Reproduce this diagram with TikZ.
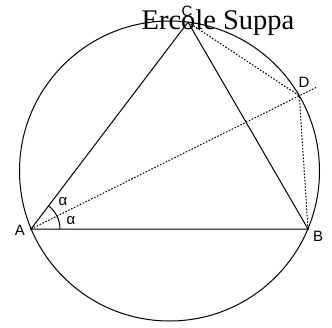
\documentclass[tikz,border=0pt]{standalone}
\usepackage{fontspec}
\setmainfont{Liberation Serif}
\newfontfamily\lblfont{Liberation Sans}
\begin{document}
\begin{tikzpicture}[x=1pt,y=1pt,
  seg/.style={line width=1pt, black},
  dotseg/.style={line width=1pt, black, dash pattern=on 1.6pt off 1.6pt},
  lbl/.style={font=\lblfont\fontsize{15}{15}\selectfont, inner sep=0pt}]
\useasboundingbox (0,0) rectangle (332,-327);
\coordinate (O) at (169.5,-171);
\coordinate (A) at (31,-229);
\coordinate (B) at (308,-229);
\coordinate (C) at (188,-22.1);
\coordinate (D) at (299.3,-95.8);
\coordinate (E) at (316,-87.5);
\draw[seg] (O) circle[radius=150];
\draw[seg] (A) -- (B) -- (C) -- cycle;
\draw[dotseg] (A) -- (D) -- (E);
\draw[dotseg] (C) -- (D) -- (B);
\draw[seg] ([xshift=29pt]A) arc[start angle=0, end angle=52.8, radius=29pt];
\node[lbl] (la) at (20,-230) {A};
\node[lbl] (lb) at (318,-236) {B};
\node[lbl] (lc) at (187,-11) {C};
\node[lbl] (ld) at (304,-82) {D};
\node[lbl] (al1) at (63,-202) {α};
\node[lbl] (al2) at (71,-221) {α};
\node[font=\fontsize{28.5}{28.5}\selectfont, inner sep=0pt, anchor=base] (t) at (218,-29) {Ercole Suppa};
\end{tikzpicture}
\end{document}
